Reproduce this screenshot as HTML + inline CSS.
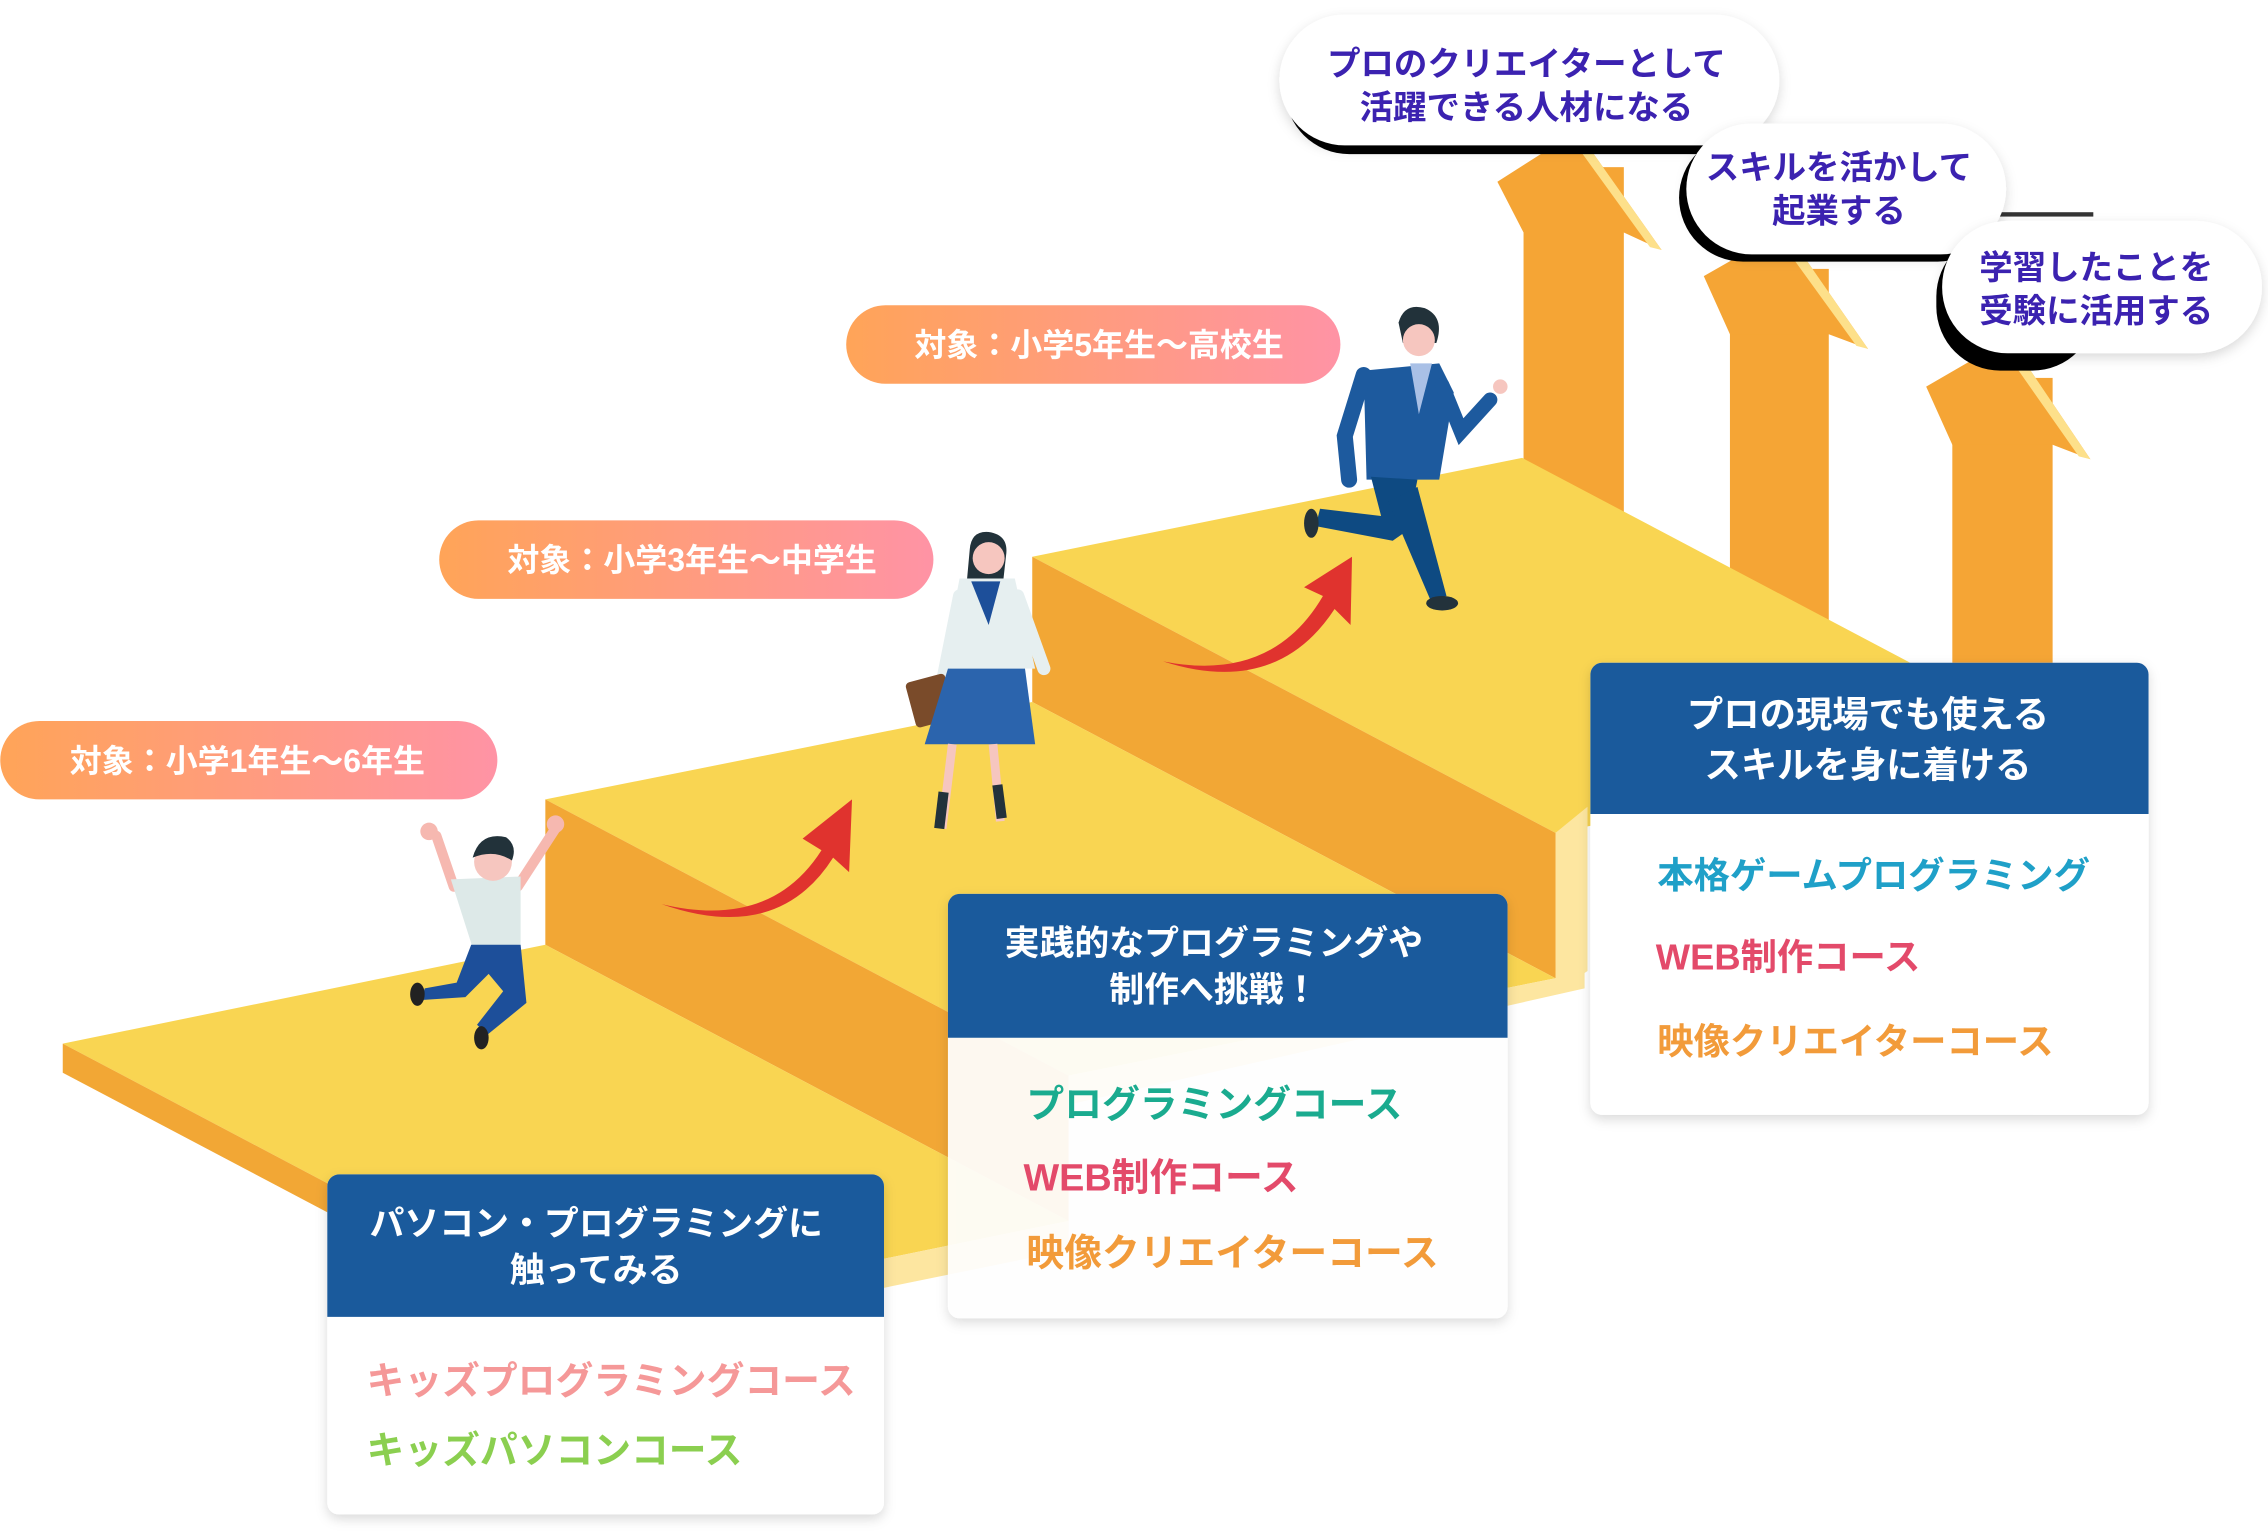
<!DOCTYPE html>
<html><head><meta charset="utf-8"><style>
html,body{margin:0;padding:0;background:#fff;}
svg{display:block;}
text{font-family:"Liberation Sans","Noto Sans CJK JP",sans-serif;font-weight:bold;}
</style></head><body>
<svg width="2268" height="1532" viewBox="0 0 1560 1054" xmlns="http://www.w3.org/2000/svg">
<defs>
<linearGradient id="pg" x1="0" x2="1" y1="0" y2="0"><stop offset="0" stop-color="#ffa458"/><stop offset="1" stop-color="#ff93a5"/></linearGradient>
<filter id="sh" x="-10%" y="-10%" width="120%" height="130%"><feDropShadow dx="0" dy="3" stdDeviation="4" flood-color="#000" flood-opacity="0.15"/></filter>
</defs>

<!-- upward arrows -->
<g>
<rect x="1048" y="115" width="69" height="400" fill="#f5a535"/>
<polygon points="1030,125 1085,90 1143,172 1117,160 1048,160" fill="#f5a535"/>
<polygon points="1085,90 1143,172 1135,170 1080,94" fill="#fde08a"/>
<rect x="1190" y="185" width="68" height="400" fill="#f5a535"/>
<polygon points="1172,190 1228,158 1285,240 1258,230 1190,230" fill="#f5a535"/>
<polygon points="1228,158 1285,240 1277,238 1222,162" fill="#fde08a"/>
<rect x="1343" y="260" width="69" height="400" fill="#f5a535"/>
<polygon points="1325,266 1382,233 1438,316 1412,306 1343,306" fill="#f5a535"/>
<polygon points="1382,233 1438,316 1430,314 1376,237" fill="#fde08a"/>
</g>

<!-- bubbles -->
<g>
<rect x="884" y="18" width="330" height="88" rx="44" fill="#000"/>
<rect x="880" y="10" width="344" height="90" rx="45" fill="#fff" filter="url(#sh)"/>
<text x="1050" y="52" font-size="23" fill="#3b22b0" text-anchor="middle">プロのクリエイターとして</text>
<text x="1050" y="82" font-size="23" fill="#3b22b0" text-anchor="middle">活躍できる人材になる</text>

<rect x="1155" y="92" width="222" height="88" rx="44" fill="#000"/>
<rect x="1360" y="146" width="80" height="3" fill="#333"/>
<rect x="1160" y="85" width="220" height="90" rx="45" fill="#fff" filter="url(#sh)"/>
<text x="1265" y="123" font-size="23" fill="#3b22b0" text-anchor="middle">スキルを活かして</text>
<text x="1265" y="153" font-size="23" fill="#3b22b0" text-anchor="middle">起業する</text>

<rect x="1332" y="160" width="110" height="95" rx="44" fill="#000"/>
<rect x="1336" y="152" width="220" height="91" rx="45" fill="#fff" filter="url(#sh)"/>
<text x="1442" y="192" font-size="23" fill="#3b22b0" text-anchor="middle">学習したことを</text>
<text x="1442" y="222" font-size="23" fill="#3b22b0" text-anchor="middle">受験に活用する</text>
</g>

<!-- steps -->
<g>
<!-- step3 -->
<polygon points="710,383 1047,315 1407,505 1070,573" fill="#f9d552"/>
<polygon points="1070,573 1092,555 1092,668 1070,683" fill="#fde6a0"/>
<polygon points="710,383 1070,573 1070,673 710,483" fill="#f2a735"/>
<!-- step2 -->
<polygon points="375,550 710,483 1070,673 735,740" fill="#f9d552"/>
<polygon points="735,740 1070,673 1090,668 1090,680 735,760" fill="#fde6a0"/>
<polygon points="375,550 735,740 735,840 375,650" fill="#f2a735"/>
<!-- step1 -->
<polygon points="43,718 375,650 735,840 403,908" fill="#f9d552"/>
<polygon points="43,718 403,908 403,928 43,738" fill="#f2a735"/>
<polygon points="403,908 735,840 735,860 403,928" fill="#fde6a0"/>
<polygon points="735,840 655,858 655,870 735,862" fill="#fde6a0"/>
</g>

<!-- pills -->
<rect x="0" y="496" width="342" height="54" rx="27" fill="url(#pg)"/>
<text x="170" y="531" font-size="22" fill="#fff" text-anchor="middle">対象：小学1年生〜6年生</text>
<rect x="302" y="358" width="340" height="54" rx="27" fill="url(#pg)"/>
<text x="476" y="393" font-size="22" fill="#fff" text-anchor="middle">対象：小学3年生〜中学生</text>
<rect x="582" y="210" width="340" height="54" rx="27" fill="url(#pg)"/>
<text x="756" y="245" font-size="22" fill="#fff" text-anchor="middle">対象：小学5年生〜高校生</text>

<!-- red arrows -->
<g fill="#e0332e">
<path d="M455,622 Q530,640 565,585 L552,577 L586,550 L584,600 L573,590 Q535,650 455,622 Z"/>
<path d="M800,455 Q875,470 910,410 L897,404 L930,383 L929,430 L918,419 Q878,480 800,455 Z"/>
</g>

<!-- kid -->
<g>
<line x1="300" y1="575" x2="312" y2="610" stroke="#f6b8b0" stroke-width="7" stroke-linecap="round"/>
<line x1="382" y1="570" x2="356" y2="610" stroke="#f6b8b0" stroke-width="7" stroke-linecap="round"/>
<circle cx="295" cy="572" r="6" fill="#f6b8b0"/><circle cx="382" cy="567" r="6" fill="#f6b8b0"/>
<path d="M310,605 L358,603 L358,650 L325,652 Z" fill="#dde9e8"/>
<circle cx="339" cy="593" r="13" fill="#f6c6bf"/>
<path d="M325,590 Q330,572 348,576 Q356,582 352,592 Q340,584 325,590Z" fill="#22323a"/>
<path d="M324,650 L358,650 L362,690 L335,712 L328,705 L346,682 L336,670 L320,686 L290,688 L292,680 L314,676 Z" fill="#1d4f9a"/>
<ellipse cx="287" cy="684" rx="5" ry="8" fill="#222"/><ellipse cx="331" cy="714" rx="5" ry="8" fill="#222"/>
</g>

<!-- girl -->
<g>
<path d="M667,378 Q668,365 680,366 Q694,368 692,382 L690,400 L665,400 Z" fill="#22323a"/>
<circle cx="680" cy="384" r="11" fill="#f6c6bf"/>
<path d="M660,398 L698,398 L712,460 L648,460 Z" fill="#e6eff0"/>
<path d="M668,400 L688,400 L680,430 Z" fill="#1d4f9a"/>
<line x1="700" y1="410" x2="718" y2="460" stroke="#e6eff0" stroke-width="9" stroke-linecap="round"/>
<line x1="660" y1="410" x2="648" y2="470" stroke="#e6eff0" stroke-width="9" stroke-linecap="round"/>
<rect x="626" y="466" width="28" height="32" rx="3" fill="#7a4b2a" transform="rotate(-15 640 482)"/>
<path d="M652,460 L705,460 L712,512 L636,512 Z" fill="#2b64ad"/>
<line x1="655" y1="512" x2="648" y2="570" stroke="#f6c6bf" stroke-width="6"/>
<line x1="683" y1="512" x2="688" y2="565" stroke="#f6c6bf" stroke-width="6"/>
<line x1="649" y1="545" x2="646" y2="570" stroke="#23323b" stroke-width="7"/>
<line x1="686" y1="540" x2="689" y2="563" stroke="#23323b" stroke-width="7"/>
</g>

<!-- man -->
<g>
<path d="M962,222 Q966,208 980,212 Q994,218 988,236 L965,236 Z" fill="#22323a"/>
<circle cx="976" cy="234" r="11" fill="#f6c6bf"/>
<path d="M938,255 L990,250 L1000,270 L990,330 L940,330 Z" fill="#1d5a9e"/>
<path d="M970,250 L985,250 L976,285 Z" fill="#a9c0e6"/>
<path d="M938,258 L925,300 L928,330" stroke="#1d5a9e" stroke-width="11" fill="none" stroke-linecap="round"/>
<path d="M992,265 L1005,297 L1025,275" stroke="#1d5a9e" stroke-width="10" fill="none" stroke-linecap="round"/>
<circle cx="1032" cy="266" r="5" fill="#f6c6bf"/>
<path d="M943,328 L975,330 L968,365 L958,372 L905,362 L908,350 L950,355 Z" fill="#0e4a82"/>
<path d="M955,345 L975,335 L995,410 L984,413 Z" fill="#0e4a82"/>
<ellipse cx="902" cy="360" rx="5" ry="10" fill="#23323b"/>
<ellipse cx="992" cy="415" rx="11" ry="5" fill="#23323b"/>
</g>

<!-- card 1 -->
<g filter="url(#sh)">
<rect x="225" y="808" width="383" height="234" rx="8" fill="#fff"/>
</g>
<path d="M233,808 H600 A8,8 0 0 1 608,816 V906 H225 V816 A8,8 0 0 1 233,808Z" fill="#1a5a9c"/>
<text x="410" y="850" font-size="24" fill="#fff" text-anchor="middle">パソコン・プログラミングに</text>
<text x="410" y="882" font-size="24" fill="#fff" text-anchor="middle">触ってみる</text>
<text x="252" y="959" font-size="26" fill="#f59898">キッズプログラミングコース</text>
<text x="252" y="1007" font-size="26" fill="#8bcf50">キッズパソコンコース</text>

<!-- card 2 -->
<g filter="url(#sh)">
<rect x="652" y="615" width="385" height="292" rx="8" fill="#fff" fill-opacity="0.92"/>
</g>
<path d="M660,615 H1029 A8,8 0 0 1 1037,623 V714 H652 V623 A8,8 0 0 1 660,615Z" fill="#1a5a9c"/>
<text x="835" y="657" font-size="24" fill="#fff" text-anchor="middle">実践的なプログラミングや</text>
<text x="835" y="689" font-size="24" fill="#fff" text-anchor="middle">制作へ挑戦！</text>
<text x="706" y="769" font-size="26" fill="#1aab8f">プログラミングコース</text>
<text x="704" y="819" font-size="26" fill="#e34a6a">WEB制作コース</text>
<text x="706" y="871" font-size="26" fill="#f29b3a">映像クリエイターコース</text>

<!-- card 3 -->
<g filter="url(#sh)">
<rect x="1094" y="456" width="384" height="311" rx="8" fill="#fff"/>
</g>
<path d="M1102,456 H1470 A8,8 0 0 1 1478,464 V560 H1094 V464 A8,8 0 0 1 1102,456Z" fill="#1a5a9c"/>
<text x="1285" y="500" font-size="25" fill="#fff" text-anchor="middle">プロの現場でも使える</text>
<text x="1285" y="535" font-size="25" fill="#fff" text-anchor="middle">スキルを身に着ける</text>
<text x="1140" y="611" font-size="25" fill="#1fa0c8">本格ゲームプログラミング</text>
<text x="1139" y="667" font-size="25" fill="#e34a6a">WEB制作コース</text>
<text x="1140" y="725" font-size="25" fill="#f29b3a">映像クリエイターコース</text>
</svg>
</body></html>
